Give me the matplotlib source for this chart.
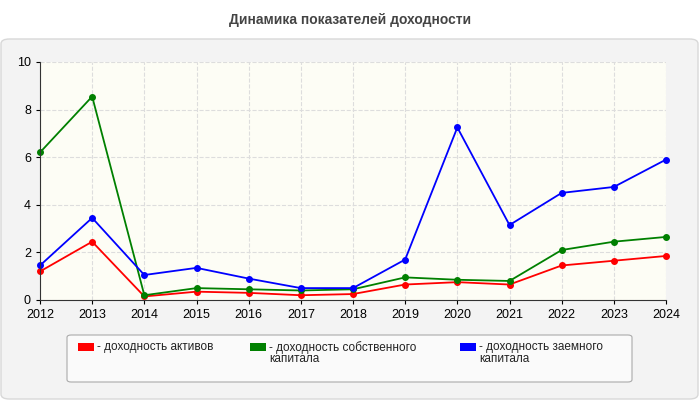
import matplotlib.pyplot as plt
from matplotlib.patches import FancyBboxPatch, Rectangle

plt.rcParams['font.family'] = 'Liberation Sans'

years = list(range(2012, 2025))
assets = [1.2, 2.45, 0.15, 0.35, 0.3, 0.2, 0.25, 0.65, 0.75, 0.65, 1.45, 1.65, 1.85]
equity = [6.2, 8.55, 0.2, 0.5, 0.45, 0.4, 0.45, 0.95, 0.85, 0.8, 2.1, 2.45, 2.65]
borrowed = [1.45, 3.45, 1.05, 1.35, 0.9, 0.5, 0.5, 1.7, 7.25, 3.15, 4.5, 4.75, 5.9]
labels = ['- доходность активов', '- доходность собственного\nкапитала',
          '- доходность заемного\nкапитала']
colors = ['#ff0000', '#008000', '#0000ff']

W, H = 700, 400
fig = plt.figure(figsize=(7, 4), dpi=100)
fig.patch.set_facecolor('white')

# серая подложка под графиком
panel = FancyBboxPatch((1 / W, 1 / H), 697 / W, 360 / H, boxstyle='round,pad=0,rounding_size=0.012',
                       transform=fig.transFigure, facecolor='#f3f3f3', edgecolor='#d8d8d8', lw=1,
                       zorder=-10)
fig.patches.append(panel)
fig.text(0.5, 1 - 20 / H, 'Динамика показателей доходности', ha='center', va='center',
         fontsize=10, fontweight='bold', color='#444444')

ax = fig.add_axes([40 / W, 1 - 300 / H, 626 / W, 238 / H])
ax.set_zorder(5)
ax.set_facecolor('#fdfdf5')
for series, c in zip([assets, equity, borrowed], colors):
    ax.plot(years, series, color=c, lw=1.3, marker='o', markersize=4, clip_on=False)
ax.set_xlim(2012, 2024)
ax.set_ylim(0, 10)
ax.set_xticks(years)
ax.set_yticks(range(0, 11, 2))
ax.grid(True, color='#dddddd', ls='--', lw=0.8)
ax.tick_params(labelsize=9, length=3)
for s in ['top', 'right']:
    ax.spines[s].set_visible(False)
for s in ['left', 'bottom']:
    ax.spines[s].set_color('#333333')

# легенда
lbox = FancyBboxPatch((67 / W, 1 - 382 / H), 565 / W, 47 / H, boxstyle='round,pad=0,rounding_size=0.006',
                      transform=fig.transFigure, facecolor='#fafafa', edgecolor='#aaaaaa', lw=0.8,
                      zorder=-5)
fig.patches.append(lbox)
xs = [78, 250, 460]
for x, lab, c in zip(xs, labels, colors):
    fig.patches.append(Rectangle((x / W, 1 - 351 / H), 16 / W, 8 / H, transform=fig.transFigure,
                                 facecolor=c, edgecolor='none'))
    fig.text((x + 19) / W, 1 - 341 / H, lab, ha='left', va='top', fontsize=8.5, color='#222222',
             linespacing=0.95)

fig.savefig('out.png', dpi=100)
